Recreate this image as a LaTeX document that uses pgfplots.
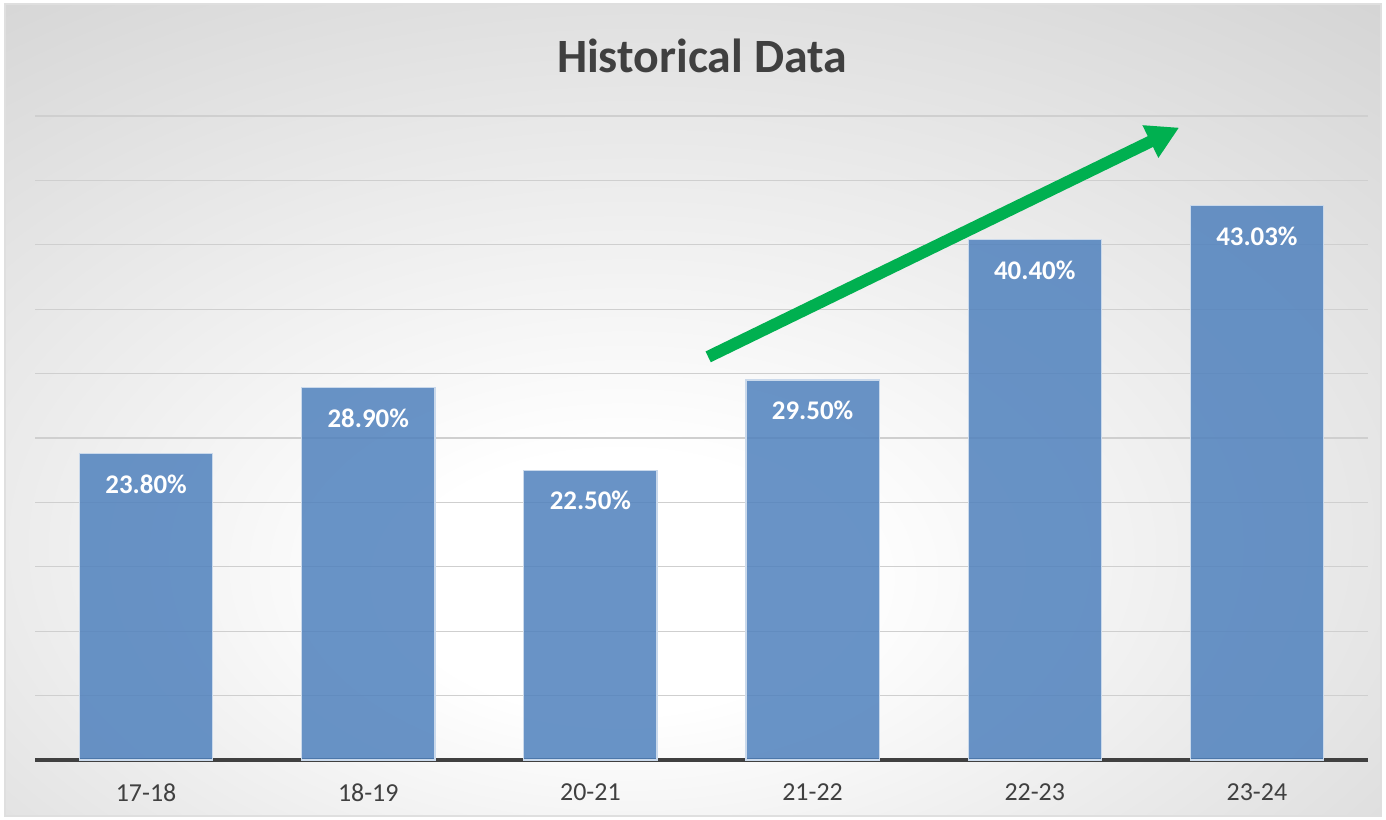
\documentclass[border=0pt]{standalone}
\usepackage{fontspec}
\setmainfont{Carlito}
\usepackage{pgfplots}
\pgfplotsset{compat=1.18}
\usetikzlibrary{arrows.meta}
\definecolor{barblue}{RGB}{79,129,189}
\definecolor{txtgray}{RGB}{64,64,64}
\definecolor{arrowgreen}{RGB}{0,176,80}
\pgfdeclareradialshading{bgshade}{\pgfpoint{-3bp}{-12bp}}{%
  color(0bp)=(white); color(8bp)=(white); color(72bp)=(gray!66)}

\begin{document}
\begin{tikzpicture}
\useasboundingbox (0,0) rectangle (693bp,410bp);
\fill[white] (0,0) rectangle (693bp,410bp);
\shade[shading=bgshade, draw=gray!25, line width=1bp] (2.5bp,2bp) rectangle (690.5bp,408bp);
\node[font=\bfseries\fontsize{24}{28}\selectfont, text=txtgray] at (351bp,382bp) {Historical Data};

\begin{axis}[
    at={(17.5bp,30bp)}, anchor=south west,
    scale only axis,
    width=666.5bp, height=322bp,
    xmin=-0.5, xmax=5.5,
    ymin=0, ymax=50,
    xtick={0,...,5},
    xticklabels={17-18,18-19,20-21,21-22,22-23,23-24},
    ytick={0,5,...,50},
    yticklabels={},
    major tick length=0pt,
    ymajorgrids,
    grid style={gray!38, line width=0.6bp},
    axis x line*=bottom,
    axis y line*=left,
    y axis line style={draw=none},
    x axis line style={draw=txtgray, line width=2.2bp, -},
    xticklabel style={font=\fontsize{13}{15}\selectfont, text=txtgray, yshift=-8.5bp},
    /pgf/number format/assume math mode=true,
    clip=false,
]
\addplot[ybar, bar width=0.6, fill=barblue, fill opacity=0.85, draw=white!70!barblue, line width=0.6bp,
    nodes near coords={\pgfmathprintnumber[fixed,zerofill,precision=2]{\pgfplotspointmeta}\%},
    nodes near coords style={anchor=north, yshift=-7bp, text=white, text opacity=1,
        font=\bfseries\fontsize{13.5}{16}\selectfont}]
coordinates {
    (0, 23.80)
    (1, 28.90)
    (2, 22.50)
    (3, 29.50)
    (4, 40.40)
    (5, 43.03)
};
\draw[arrowgreen, line width=6bp, -{Triangle[length=16bp, width=17bp]}]
    (axis cs:2.53,31.3) -- (axis cs:4.65,49.1);
\end{axis}
\end{tikzpicture}
\end{document}
